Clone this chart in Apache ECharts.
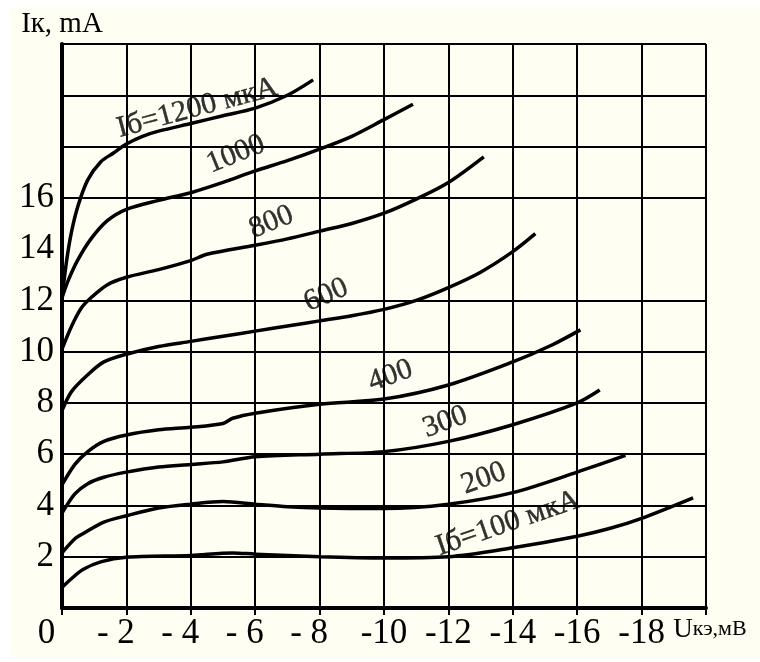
<!DOCTYPE html>
<html>
<head>
<meta charset="utf-8">
<script src="https://cdn.jsdelivr.net/npm/echarts@6/dist/echarts.min.js"></script>
<style>
  html, body { margin: 0; padding: 0; background: #ffffff; }
  #chart { position: absolute; left: 10px; top: 7px; width: 750px; height: 651px; }
</style>
</head>
<body>
<div id="chart"></div>
<script>
// коллекторные характеристики: [Uкэ, Iк]
const ib1200 = [[0,12.1],[-0.15,13.6],[-0.3,14.7],[-0.5,15.7],[-0.8,16.7],[-1.2,17.4],[-1.6,17.75],[-2,18.1],[-2.5,18.4],[-3,18.6],[-4,18.9],[-5,19.2],[-6,19.5],[-7,20.0],[-7.8,20.6]]
const ib1000 = [[0,12.1],[-0.2,12.8],[-0.5,13.6],[-0.9,14.4],[-1.4,15.1],[-2,15.55],[-3,15.9],[-4,16.2],[-5,16.6],[-6,17.05],[-7,17.45],[-8,17.9],[-9,18.4],[-10,19.05],[-10.9,19.65]]
const ib800 = [[0,10.1],[-0.3,11.0],[-0.6,11.7],[-0.9,12.1],[-1.4,12.6],[-2,12.9],[-3,13.2],[-4,13.55],[-4.5,13.8],[-6,14.15],[-7,14.4],[-8,14.7],[-9,15.0],[-10,15.4],[-11,15.95],[-12,16.6],[-13.1,17.6]]
const ib600 = [[0,7.7],[-0.3,8.45],[-0.8,9.1],[-1.3,9.6],[-2,9.9],[-3,10.2],[-4,10.4],[-5,10.6],[-6,10.8],[-7,11.0],[-8,11.2],[-9,11.4],[-10,11.65],[-11,12.0],[-12,12.5],[-13,13.1],[-14,13.9],[-14.7,14.6]]
const ib400 = [[0,4.8],[-0.4,5.6],[-0.8,6.1],[-1.3,6.5],[-2,6.75],[-3,6.95],[-4,7.05],[-5,7.2],[-5.3,7.4],[-6,7.6],[-8,7.95],[-10,8.15],[-12,8.7],[-14,9.6],[-15.2,10.25],[-16.1,10.85]]
const ib300 = [[0,3.7],[-0.4,4.45],[-0.8,4.85],[-1.3,5.1],[-2,5.3],[-3,5.5],[-4,5.6],[-5,5.7],[-6,5.9],[-8,6.0],[-10,6.1],[-12,6.5],[-14,7.15],[-16,8.0],[-16.7,8.5]]
const ib200 = [[0,2.15],[-0.4,2.7],[-0.65,2.9],[-1.3,3.35],[-2,3.6],[-3,3.9],[-4,4.05],[-5,4.15],[-6,4.05],[-7,3.95],[-8,3.9],[-10,3.88],[-12,4.05],[-14,4.5],[-16,5.3],[-17.5,5.95]]
const ib100 = [[0,0.8],[-0.3,1.15],[-0.65,1.5],[-1.2,1.8],[-2,1.98],[-4,2.05],[-5.3,2.15],[-6,2.1],[-8,2.0],[-10,1.95],[-12,2.0],[-14,2.35],[-16,2.8],[-17,3.1],[-18,3.5],[-19.6,4.3]]

const curves = [ib1200, ib1000, ib800, ib600, ib400, ib300, ib200, ib100]

// подписи кривых
const curveNames = ['Iб=1200 мкА', '1000', '800', '600', '400', '300', '200', 'Iб=100 мкА']
const nameU = [-4.2, -5.4, -6.5, -8.2, -10.2, -11.9, -13.1, -13.85]
const nameI = [19.5, 17.7, 15.05, 12.2, 9.05, 7.25, 5.05, 3.3]
const nameAngle = [15, 22, 22, 23, 20, 20, 20, 19]

// оси
const yLabels = [2, 4, 6, 8, 10, 12, 14, 16]
const yGridLevels = [2, 4, 6, 8, 10, 12, 16, 18, 20, 22]

const serif = 'Liberation Serif'

const chart = echarts.init(document.getElementById('chart'))

function xLabel(v) {
  if (v === 0) return '{z|0}'
  if (v === -20) return '{u|U}{k|кэ,мВ}'
  if (v > -10) return '{s|- ' + (-v) + '}'
  return '-' + (-v)
}

chart.setOption({
  backgroundColor: '#fefef2',
  animation: false,
  grid: { left: 52, right: 54, top: 37, bottom: 50 },
  xAxis: {
    type: 'value',
    min: -20,
    max: 0,
    interval: 2,
    inverse: true,
    axisLine: { lineStyle: { color: '#000', width: 4 } },
    axisTick: { show: true, length: 7, lineStyle: { color: '#000', width: 2 } },
    splitLine: { show: true, lineStyle: { color: '#000', width: 2 } },
    axisLabel: {
      margin: 8,
      color: '#000',
      fontFamily: serif,
      fontSize: 35,
      formatter: xLabel,
      rich: {
        z: { fontFamily: serif, fontSize: 35, color: '#000', padding: [0, 31, 0, 0] },
        s: { fontFamily: serif, fontSize: 35, color: '#000', padding: [0, 21, 0, 0] },
        u: { fontFamily: serif, fontSize: 27, color: '#000', padding: [0, 0, 0, 8] },
        k: { fontFamily: serif, fontSize: 22, color: '#000' }
      }
    }
  },
  yAxis: {
    type: 'value',
    min: 0,
    max: 22,
    interval: 2,
    name: 'Iк, mA',
    nameLocation: 'end',
    nameGap: 5,
    nameTextStyle: { color: '#000', fontFamily: serif, fontSize: 29 },
    axisLine: { show: true, lineStyle: { color: '#000', width: 4 } },
    axisTick: { show: false },
    splitLine: { show: false },
    axisLabel: {
      margin: 8,
      color: '#000',
      fontFamily: serif,
      fontSize: 35,
      formatter: v => yLabels.includes(v) ? String(v) : ''
    }
  },
  series: [
    ...curves.map((d, i) => ({
      type: 'line',
      data: d,
      showSymbol: false,
      smooth: 0.3,
      lineStyle: { color: '#000', width: 3.5 },
      z: 3,
      markLine: i === 0 ? {
        silent: true,
        symbol: ['none', 'none'],
        label: { show: false },
        lineStyle: { color: '#000', width: 2, type: 'solid' },
        data: yGridLevels.map(v => ({ yAxis: v }))
      } : undefined
    })),
    {
      type: 'scatter',
      symbolSize: 0,
      silent: true,
      z: 4,
      data: curveNames.map((n, i) => ({
        name: n,
        value: [nameU[i], nameI[i]],
        label: { rotate: nameAngle[i] }
      })),
      label: {
        show: true,
        position: 'inside',
        formatter: p => p.name,
        color: '#000',
        textBorderColor: '#000',
        textBorderWidth: 0.4,
        fontFamily: serif,
        fontSize: 30
      }
    }
  ]
})
</script>
</body>
</html>
